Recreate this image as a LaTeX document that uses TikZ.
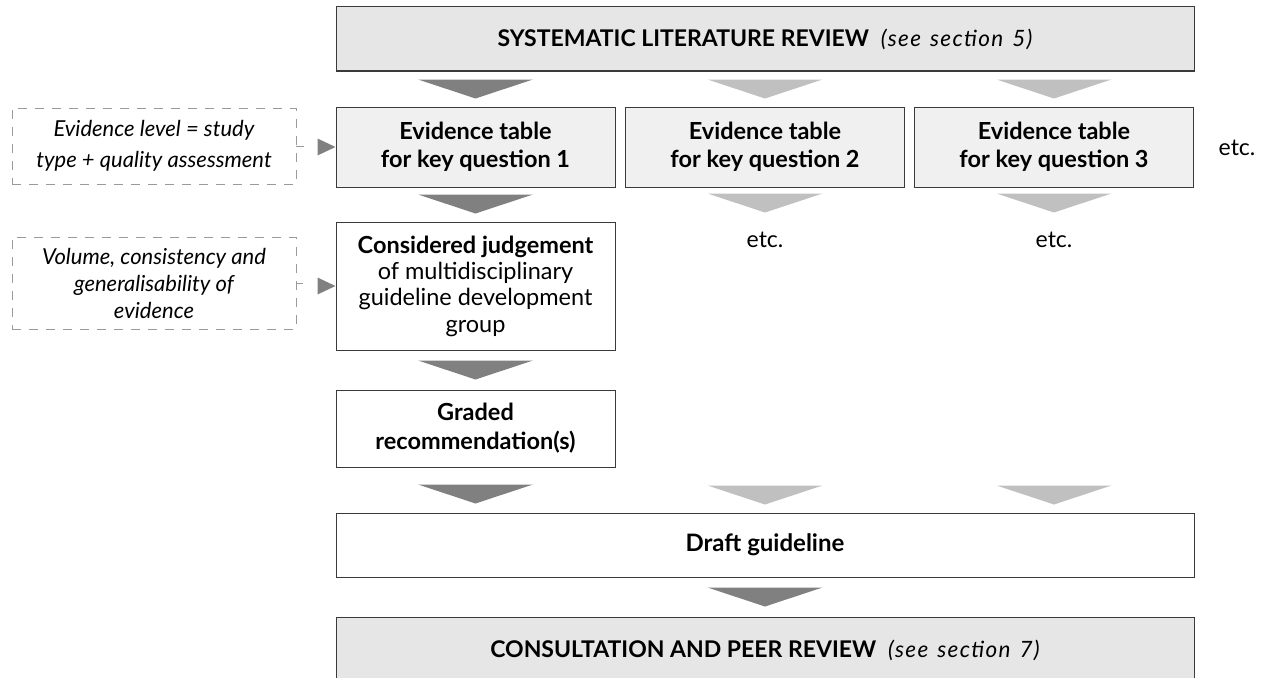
\documentclass[tikz,border=0pt]{standalone}
\usepackage{fontspec}
\setmainfont{Lato}
\usetikzlibrary{calc}
\definecolor{bordc}{HTML}{3A3A3A}
\definecolor{fillA}{HTML}{E6E6E6}
\definecolor{fillB}{HTML}{F0F0F0}
\definecolor{arrD}{HTML}{808080}
\definecolor{arrL}{HTML}{C0C0C0}
\definecolor{dashc}{HTML}{9A9A9A}
\newcommand{\secref}[1]{{\fontsize{22.5}{24}\selectfont\mdseries\itshape\addfontfeatures{LetterSpace=6}\spaceskip=9pt\relax #1}}
\begin{document}
\begin{tikzpicture}[x=1pt,y=-1pt,
 box/.style={draw=bordc, line width=1pt, inner sep=0pt, align=center, text=black},
 headbox/.style={box, fill=fillA, minimum width=858pt, minimum height=64pt},
 evbox/.style={box, fill=fillB, minimum width=279pt, minimum height=80pt, font=\fontsize{23.5}{28}\selectfont\bfseries},
 wbox/.style={box, fill=white, minimum width=279pt, font=\fontsize{23.5}{26.3}\selectfont},
 dbox/.style={draw=dashc, dash pattern=on 9pt off 8pt, line width=0.9pt, minimum width=284pt, inner sep=0pt, align=center, font=\fontsize{22}{31}\selectfont\itshape},
 etcl/.style={font=\fontsize{23}{26}\selectfont},
 headtxt/.style={font=\fontsize{23}{26}\selectfont\bfseries},
 pics/dn/.style={code={\fill[#1] (-57.5,0) -- (57.5,0) -- (0,19) -- cycle;}}
]
\useasboundingbox (0,0) rectangle (1271,677);
\clip (0,0) rectangle (1271,677);

% main boxes
\node[headbox, headtxt] (top) at (765,39) {SYSTEMATIC LITERATURE REVIEW\hspace{12pt}\secref{(see section 5)}};
\node[evbox] (ev1) at (475.5,147) {Evidence table\\for key question 1};
\node[evbox] (ev2) at (765,147) {Evidence table\\for key question 2};
\node[evbox] (ev3) at (1054,147) {Evidence table\\for key question 3};
\node[etcl] (etcR) at (1237,148) {etc.};
\node[wbox, minimum height=128pt] (cj) at (475.5,286) {\textbf{Considered judgement}\\of multidisciplinary\\guideline development\\group};
\node[etcl] (etc2) at (765,240) {etc.};
\node[etcl] (etc3) at (1054,240) {etc.};
\node[wbox, minimum height=77pt, font=\fontsize{23.5}{29}\selectfont\bfseries] (gr) at (475.5,428.5) {Graded\\recommendation(s)};
\node[box, fill=white, minimum width=858pt, minimum height=64pt, font=\fontsize{24}{26}\selectfont\bfseries] (dr) at (765,545) {Draft guideline};
\node[headbox, minimum height=70pt] (cp) at (765,652) {};
\node[headtxt] (cpt) at (765,650) {CONSULTATION AND PEER REVIEW\hspace{12pt}\secref{(see section 7)}};

% dashed side boxes
\node[dbox, minimum height=76pt] (d1) at (154,146) {Evidence level = study\\type + quality assessment};
\node[dbox, minimum height=92pt, font=\fontsize{22}{27}\selectfont\itshape] (d2) at (154,283) {Volume, consistency and\\generalisability of\\evidence};

\draw[dashc, line width=0.9pt] (d1.east) -- ++(8,0);
\fill[arrD] ($(ev1.west)+(-18,-8.5)$) -- (ev1.west) -- ($(ev1.west)+(-18,8.5)$) -- cycle;
\draw[dashc, line width=0.9pt] (d2.east) -- ++(7,0);
\fill[arrD] ($(cj.west)+(-18,-8.5)$) -- (cj.west) -- ($(cj.west)+(-18,8.5)$) -- cycle;

% flow arrows
\pic at ($(top.south -| ev1.north)+(0,8)$) {dn=arrD};
\pic at ($(top.south -| ev2.north)+(0,8)$) {dn=arrL};
\pic at ($(top.south -| ev3.north)+(0,8)$) {dn=arrL};
\pic at ($(ev1.south)+(0,7)$) {dn=arrD};
\pic at ($(ev2.south)+(0,6)$) {dn=arrL};
\pic at ($(ev3.south)+(0,6)$) {dn=arrL};
\pic at ($(cj.south)+(0,10)$) {dn=arrD};
\pic at ($(dr.north -| gr.south)+(0,-28)$) {dn=arrD};
\pic at ($(dr.north -| ev2.south)+(0,-27)$) {dn=arrL};
\pic at ($(dr.north -| ev3.south)+(0,-27)$) {dn=arrL};
\pic at ($(dr.south)+(0,10)$) {dn=arrD};
\end{tikzpicture}
\end{document}
